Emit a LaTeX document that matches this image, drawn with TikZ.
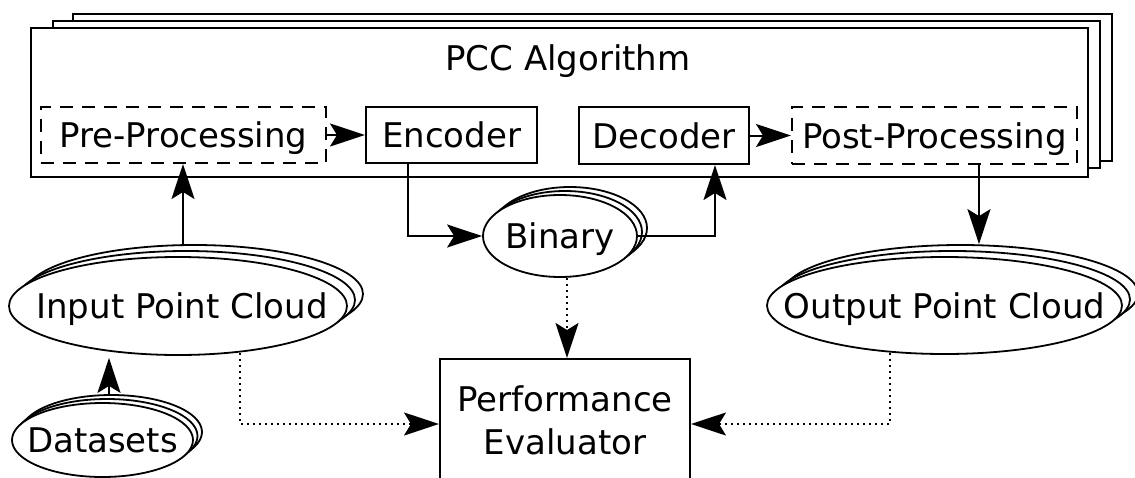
\documentclass[tikz,border=0pt]{standalone}
\usepackage{fontspec}
\setmainfont{DejaVu Sans}
\usetikzlibrary{arrows.meta,shadows,calc,shapes.geometric}
\begin{document}
\begin{tikzpicture}[x=1pt,y=-1pt,
  every node/.style={font=\fontsize{34}{43}\selectfont, inner sep=0pt, text height=25pt, text depth=0pt},
  box/.style={draw, line width=2pt, fill=white, rectangle},
  dbox/.style={box, dash pattern=on 13pt off 9pt},
  cloud/.style={draw, ellipse, line width=1.8pt, fill=white},
  stk/.style n args={4}{general shadow={shadow xshift=#3pt, shadow yshift=#4pt, draw, fill=white, line width=1.8pt},
                        general shadow={shadow xshift=#1pt, shadow yshift=#2pt, draw, fill=white, line width=1.8pt}},
  arr/.style={line width=2pt, -{Stealth[length=35pt,width=23pt,inset=7pt]}},
  dotarr/.style={arr, dash pattern=on 2pt off 4pt},
]
\useasboundingbox (0,0) rectangle (1135,477);

% PCC algorithm stacked container
\draw[line width=2pt, fill=white] (73,14) rectangle (1112,161);
\draw[line width=2pt, fill=white] (53,21) rectangle (1100,168);
\node[box, minimum width=1057pt, minimum height=149pt] (pcc) at (559.5,102.5) {};
\node (pcctitle) at (568,58) {PCC Algorithm};

\node[dbox, minimum width=285pt, minimum height=56pt] (pre) at (183.5,135) {Pre-Processing};
\node[box, minimum width=171pt, minimum height=56pt] (enc) at (451.5,135) {Encoder};
\node[box, minimum width=170pt, minimum height=57pt] (dec) at (664,135.5) {Decoder};
\node[dbox, minimum width=285pt, minimum height=57pt] (post) at (934.5,135.5) {Post-Processing};

% clouds
\node[cloud, stk={8}{6}{16}{12}, minimum width=338pt, minimum height=98pt] (inpc) at (178,306) {\makebox[0pt]{\hspace{8pt}Input Point Cloud}};
\node[cloud, stk={8}{6}{16}{12}, minimum width=355pt, minimum height=97pt] (outpc) at (944.5,305.5) {\makebox[0pt]{Output Point Cloud}};
\node[cloud, stk={5}{4}{10}{8}, minimum width=154pt, minimum height=82pt] (bin) at (560,236) {\makebox[0pt]{Binary}};
\node[cloud, stk={4.5}{4}{9}{8}, minimum width=181pt, minimum height=74pt] (data) at (102.5,440) {\makebox[0pt]{Datasets}};

% evaluator
\node[box, text height=, text depth=, align=center, minimum width=250pt, minimum height=123pt] (perf) at (565,420.5) {Performance\\Evaluator};

% connectors
\draw[arr] (pre.east) -- (enc.west);
\draw[arr] (dec.east) -- (post.west);
\draw[arr] ($(enc.south)+(-43.5,0)$) |- (bin.west);
\draw[arr] (bin.east) -| ($(dec.south)+(51,0)$);
\coordinate (inTop) at ($(inpc.north)+(5,-12)$);
\draw[arr] (inTop) -- (inTop |- pre.south);
\coordinate (dsTop) at ($(data.north)+(6.5,-8)$);
\draw[arr, shorten >=2pt] (dsTop) -- (dsTop |- inpc.south);
\coordinate (outTop) at ($(outpc.north)+(34.5,-12)$);
\draw[arr] (outTop |- post.south) -- (outTop);

\coordinate (binDot) at ($(perf.north)+(2,0)$);
\draw[dotarr] (binDot |- bin.south) -- (binDot);
\draw[dotarr] ($(inpc.south)+(62,-3)$) |- ($(perf.west)+(0,3.5)$);
\draw[dotarr] ($(outpc.south)+(-54.5,-2)$) |- ($(perf.east)+(0,3.5)$);
\end{tikzpicture}
\end{document}
